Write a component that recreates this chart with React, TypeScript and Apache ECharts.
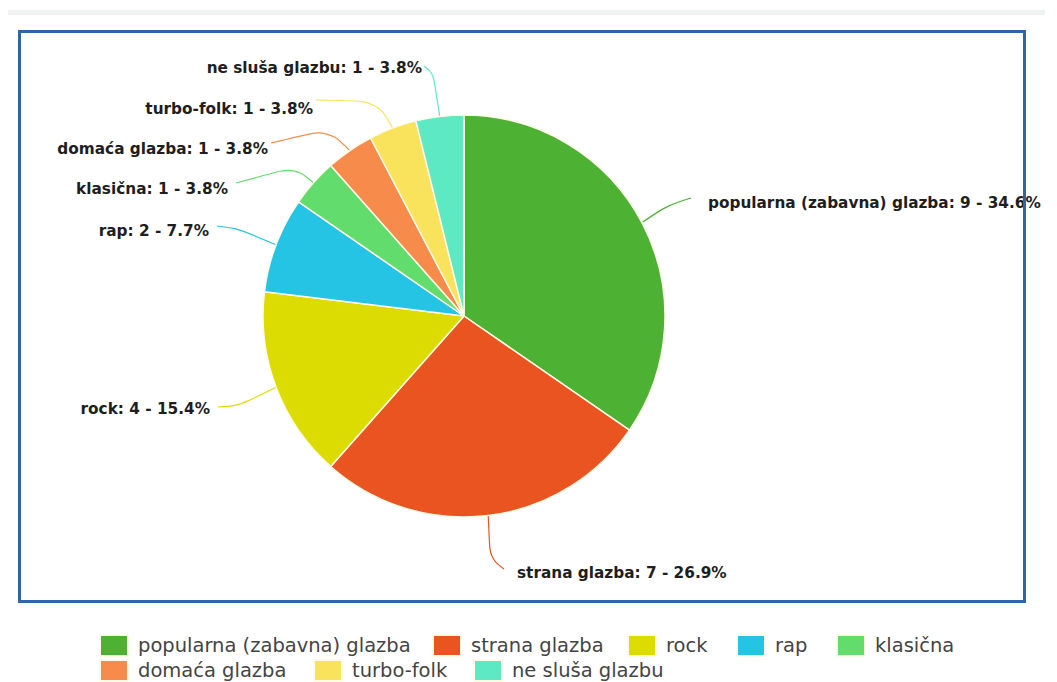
import React, { useEffect, useRef } from "react";
import * as echarts from "echarts";

const categories = [
  "popularna (zabavna) glazba",
  "strana glazba",
  "rock",
  "rap",
  "klasična",
  "domaća glazba",
  "turbo-folk",
  "ne sluša glazbu",
];
const counts = [9, 7, 4, 2, 1, 1, 1, 1];
const colors = ["#4db133", "#ea5420", "#dcdc02", "#25c4e4", "#62dc6c", "#f78b4b", "#f9e35d", "#5ee9c5"];

// label layout (pixel positions of label text anchor and connector elbow)
const labelPos = [
  { x: 708, y: 203, align: "left", mid: [668, 205], end: [691, 198] },
  { x: 517, y: 573, align: "left", mid: [490, 558], end: [504, 569] },
  { x: 210, y: 409, align: "right", mid: [238, 406], end: [218, 407] },
  { x: 209, y: 231, align: "right", mid: [236, 228], end: [217, 226] },
  { x: 228, y: 189, align: "right", mid: [294, 167], end: [236, 183] },
  { x: 268, y: 149, align: "right", mid: [328, 129], end: [271, 143] },
  { x: 313, y: 109, align: "right", mid: [377, 101], end: [316, 100] },
  { x: 422, y: 68, align: "right", mid: [433, 73], end: [424, 66] },
];

// legend item positions (left, top)
const legendPos = [
  [99, 634], [432, 634], [627, 634], [736, 634], [836, 634],
  [99, 659], [313, 659], [473, 659],
];

export default function App() {
  const ref = useRef<HTMLDivElement>(null);
  useEffect(() => {
    if (!ref.current) return;
    const chart = echarts.init(ref.current, null, { renderer: "svg" });
    const total = counts.reduce((a, b) => a + b, 0);
    const data = categories.map((name, i) => ({
      name,
      value: counts[i],
      itemStyle: { color: colors[i] },
      labelLine: { lineStyle: { color: colors[i] } },
    }));
    const legends = categories.map((name, i) => ({
      show: true,
      data: [name],
      left: legendPos[i][0],
      top: legendPos[i][1],
      padding: 0,
      itemWidth: 28,
      itemHeight: 21,
      icon: "rect",
      selectedMode: false,
      textStyle: {
        fontFamily: "DejaVu Sans",
        fontSize: 19.5,
        color: "#444444",
        lineHeight: 21,
        padding: [0, 0, 0, 5],
      },
    }));
    chart.setOption({
      animation: false,
      backgroundColor: "#ffffff",
      legend: legends,
      graphic: [
        {
          type: "rect",
          shape: { x: 8, y: 10, width: 1037, height: 5 },
          style: { fill: "#eef2f1" },
          z: -1,
        },
        {
          type: "rect",
          shape: { x: 19.5, y: 31.5, width: 1005, height: 570 },
          style: { fill: "none", stroke: "#2f66a6", lineWidth: 3 },
          z: 100,
        },
      ],
      series: [
        {
          type: "pie",
          center: [464, 316],
          radius: 201,
          startAngle: 90,
          clockwise: true,
          avoidLabelOverlap: false,
          data,
          itemStyle: { borderColor: "#fffbe6", borderWidth: 1.5 },
          label: {
            show: true,
            position: "outside",
            formatter: (p: any) => `${p.name}: ${p.value} - ${((p.value / total) * 100).toFixed(1)}%`,
            fontFamily: "DejaVu Sans",
            fontWeight: "bold",
            fontSize: 15.3,
            color: "#1e1e1e",
          },
          labelLine: { show: true, length: 20, length2: 20, smooth: 0.35, lineStyle: { width: 1.2 } },
          labelLayout: (params: any) => {
            const lp = labelPos[params.dataIndex];
            const pts = params.labelLinePoints;
            const start = pts && pts[0] ? pts[0] : lp.mid;
            return {
              x: lp.x,
              y: lp.y,
              align: lp.align,
              verticalAlign: "middle",
              labelLinePoints: [start, lp.mid, lp.end],
            };
          },
          emphasis: { disabled: true },
        },
      ],
    });
    return () => chart.dispose();
  }, []);
  return (
    <div
      ref={ref}
      style={{ position: "fixed", left: 0, top: 0, width: 1057, height: 682 }}
    />
  );
}
